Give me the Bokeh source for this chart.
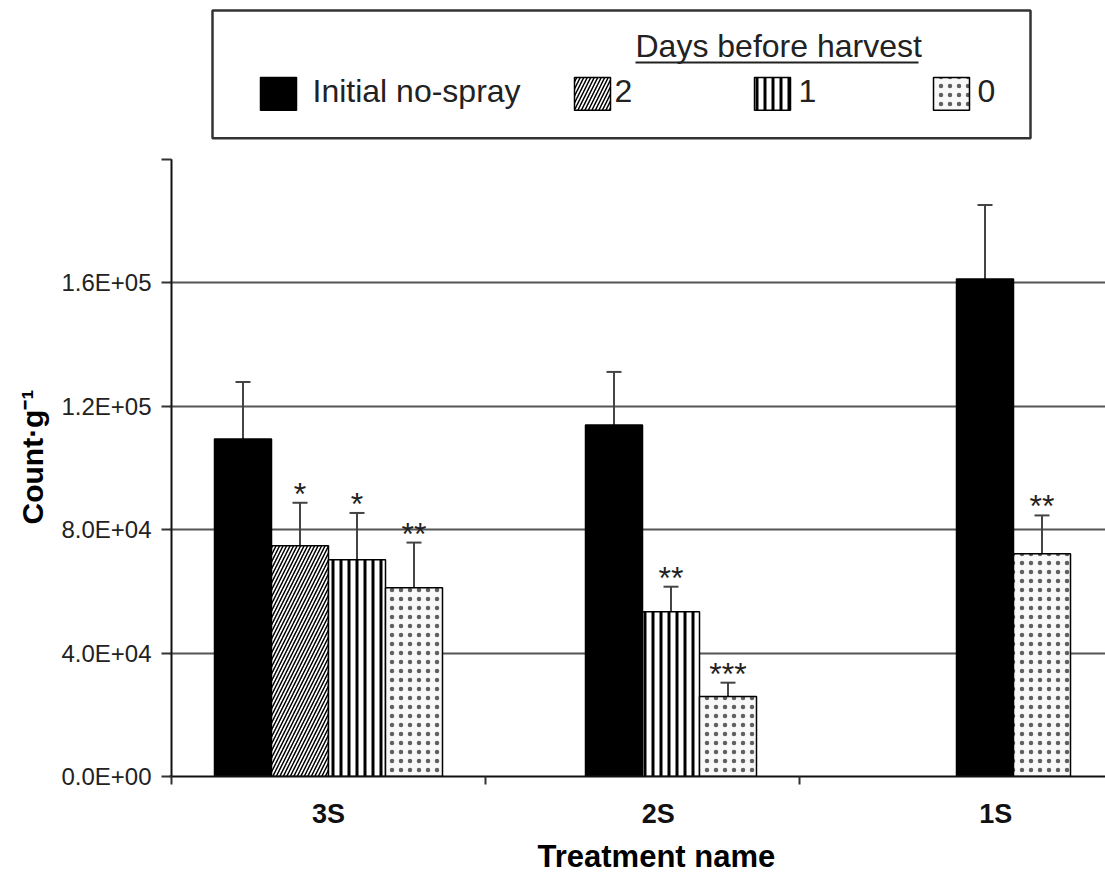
from bokeh.plotting import figure
from bokeh.models import Range1d, FixedTicker, ColumnDataSource, Whisker, TeeHead, Title
from bokeh.embed import file_html
from bokeh.resources import INLINE
from bokeh.core.properties import value

# ---------------- data ----------------
categories = ["3S", "2S", "1S"]
series_names = ["Initial no-spray", "2", "1", "0"]
legend_header = "Days before harvest"

initial_vals = [109400, 113900, 161200]
initial_err = [18400, 17200, 24000]
d2_vals = [74800, None, None]
d2_err = [13900, None, None]
d1_vals = [70200, 53400, None]
d1_err = [15200, 8100, None]
d0_vals = [61200, 25900, 72200]
d0_err = [14600, 4500, 12400]

initial_sig = ["", "", ""]
d2_sig = ["*", "", ""]
d1_sig = ["*", "**", ""]
d0_sig = ["**", "***", "**"]

y_ticks = [0, 40000, 80000, 120000, 160000, 200000]
y_tick_labels = ["0.0E+00", "4.0E+04", "8.0E+04", "1.2E+05", "1.6E+05", ""]
x_title = "Treatment name"
y_title = "Count\u00b7g\u207b\u00b9"

# ---------------- layout constants ----------------
FONT = "Liberation Sans"
W, H = 1105, 879
AXIS_X = 171              # pixel column of the value axis
LEFT, BOTTOM = 169, 102   # frame borders (frame reaches the top of the canvas)
PX_CAT = 314.0            # pixels per category
BW = 57.0 / PX_CAT        # bar width in category units
Y_MAX = 200000
PLOT_H = 618              # pixel height of the 0..Y_MAX value span
PX = Y_MAX / PLOT_H       # data units per pixel
TXT_SHIFT = 11            # svg alphabetic-baseline correction (px)
label_pos = [0.5, 1.55, 2.625]


def sx(px):   # canvas pixel -> x data
    return (px - AXIS_X) / PX_CAT


def sy(py):   # canvas pixel -> y data
    return (H - BOTTOM - py) * PX


styles = [
    dict(fill_color="black"),
    dict(fill_color="white", hatch_pattern="/", hatch_color="black", hatch_scale=7, hatch_weight=1.5),
    dict(fill_color="white", hatch_pattern="|", hatch_color="black", hatch_scale=8, hatch_weight=3),
    dict(fill_color="#f8f8f8", hatch_pattern=".", hatch_color="#606060", hatch_scale=9, hatch_weight=0.3),
]

vals = [initial_vals, d2_vals, d1_vals, d0_vals]
errs = [initial_err, d2_err, d1_err, d0_err]
sigs = [initial_sig, d2_sig, d1_sig, d0_sig]

# ---------------- main chart ----------------
p = figure(width=W, height=H,
           x_range=Range1d(sx(LEFT), sx(W)), y_range=Range1d(0, sy(0)),
           output_backend="svg", toolbar_location=None,
           min_border_left=LEFT, min_border_right=0, min_border_top=0, min_border_bottom=BOTTOM)
p.outline_line_color = None
p.background_fill_color = "white"
p.xgrid.visible = False
p.ygrid.ticker = FixedTicker(ticks=y_ticks[1:-1])
p.ygrid.grid_line_color = "#555555"
p.ygrid.grid_line_width = 2

# value axis line (only over the 0..Y_MAX span)
p.segment(x0=[0], y0=[0], x1=[0], y1=[Y_MAX], line_color="#111111", line_width=2)

# bar positions: bars in each category packed towards the right
sources = [dict(x=[], top=[], upper=[], sig=[], sig_y=[]) for _ in vals]
for j in range(len(categories)):
    present = [k for k in range(len(vals)) if vals[k][j] is not None]
    n = len(present)
    for idx, k in enumerate(present):
        slot = 1.5 - (n - 1 - idx)
        xc = j + 0.5 + slot * BW
        up = vals[k][j] + errs[k][j]
        d = sources[k]
        d["x"].append(xc)
        d["top"].append(vals[k][j])
        d["upper"].append(up)
        d["sig"].append(sigs[k][j])
        d["sig_y"].append(up + 9 * PX)

for k, d in enumerate(sources):
    src = ColumnDataSource(d)
    p.vbar(x="x", top="top", bottom=0, width=BW, source=src,
           line_color="black", line_width=1.5, **styles[k])
    w = Whisker(source=src, base="x", upper="upper", lower="top", dimension="height",
                line_color="#444444", line_width=2,
                upper_head=TeeHead(size=15, line_color="#444444", line_width=2),
                lower_head=None)
    p.add_layout(w)
    p.text(x="x", y="sig_y", text="sig", source=src, text_font=value(FONT),
           text_font_size="32px", text_align="center", text_baseline="middle",
           text_color="#222222")

# y axis
p.yaxis.ticker = FixedTicker(ticks=y_ticks)
p.yaxis.major_label_overrides = {t: l for t, l in zip(y_ticks, y_tick_labels)}
p.yaxis.major_label_text_font = FONT
p.yaxis.major_label_text_font_size = "24px"
p.yaxis.major_label_text_color = "#222222"
p.yaxis.major_label_standoff = 10
p.yaxis.major_tick_out = 8
p.yaxis.major_tick_in = 2
p.yaxis.major_tick_line_width = 2
p.yaxis.major_tick_line_color = "#333333"
p.yaxis.minor_tick_line_color = None
p.yaxis.axis_line_color = None

# x axis
p.xaxis.ticker = FixedTicker(ticks=label_pos, minor_ticks=[0, 1, 2, 3])
p.xaxis.major_label_overrides = {t: c for t, c in zip(label_pos, categories)}
p.xaxis.major_tick_line_color = None
p.xaxis.major_tick_out = 0
p.xaxis.major_tick_in = 0
p.xaxis.minor_tick_out = 8
p.xaxis.minor_tick_in = 0
p.xaxis.minor_tick_line_width = 2
p.xaxis.minor_tick_line_color = "#333333"
p.xaxis.axis_line_width = 2
p.xaxis.axis_line_color = "#111111"
p.xaxis.major_label_text_font = FONT
p.xaxis.major_label_text_font_style = "bold"
p.xaxis.major_label_text_font_size = "27px"
p.xaxis.major_label_text_color = "#111111"
p.xaxis.major_label_standoff = 14

# axis titles (side titles, offset so they sit where the original has them)
ty = Title(text=y_title, align="left", offset=777 - 525,
           text_font=FONT, text_font_style="bold", text_font_size="30px",
           text_color="black", standoff=20)
p.add_layout(ty, "left")
tx = Title(text=x_title, align="left", offset=537 - LEFT,
           text_font=FONT, text_font_style="bold", text_font_size="31px",
           text_color="black", standoff=11)
p.add_layout(tx, "below")

# ---------------- legend (drawn above the value span) ----------------
p.quad(left=[sx(212)], right=[sx(1030)], top=[sy(10)], bottom=[sy(138)],
       fill_color=None, line_color="#333333", line_width=2.5)
sw_left = [260, 574, 754, 933]
txt_left = [312, 614, 798, 977]
for k, name in enumerate(series_names):
    p.quad(left=[sx(sw_left[k])], right=[sx(sw_left[k] + 36)], top=[sy(77)], bottom=[sy(110)],
           line_color="black", line_width=1.5, **styles[k])
    p.text(x=[sx(txt_left[k])], y=[sy(102 - TXT_SHIFT)], text=[name], text_font=value(FONT),
           text_font_size="32px", text_align="left", text_baseline="alphabetic",
           text_color="#222222")
p.text(x=[sx(635)], y=[sy(57 - TXT_SHIFT)], text=[legend_header], text_font=value(FONT),
       text_font_size="32px", text_align="left", text_baseline="alphabetic",
       text_color="#222222")
p.segment(x0=[sx(635)], y0=[sy(62)], x1=[sx(918)], y1=[sy(62)],
          line_color="#222222", line_width=2)

open("out.html", "w").write(file_html(p, INLINE))
